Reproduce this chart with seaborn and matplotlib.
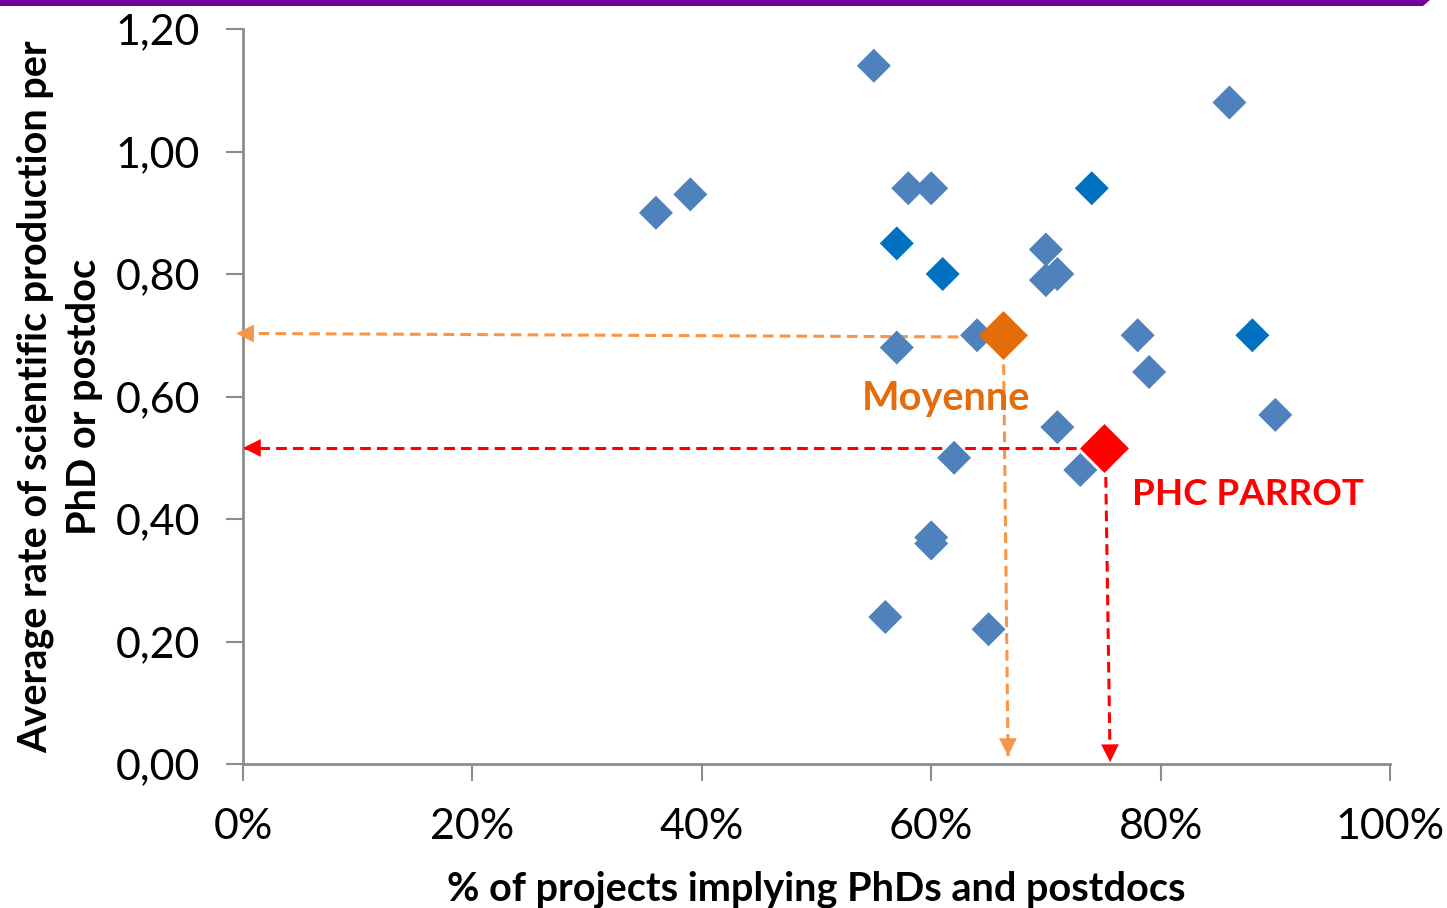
import matplotlib
matplotlib.use("Agg")
import matplotlib.pyplot as plt
import matplotlib.patches as mpatches
from matplotlib.ticker import FuncFormatter
import seaborn as sns
import pandas as pd

# Projects: share implying PhDs/postdocs vs. publication rate
x_share = [0.36, 0.39, 0.55, 0.58, 0.60, 0.57, 0.61, 0.74, 0.86, 0.70, 0.70, 0.71,
           0.64, 0.57, 0.78, 0.88, 0.79, 0.90, 0.71, 0.62, 0.73, 0.60, 0.60, 0.56, 0.65]
y_rate = [0.90, 0.93, 1.14, 0.94, 0.94, 0.85, 0.80, 0.94, 1.08, 0.84, 0.79, 0.80,
          0.70, 0.68, 0.70, 0.70, 0.64, 0.57, 0.55, 0.50, 0.48, 0.37, 0.36, 0.24, 0.22]
group = ["a", "a", "a", "a", "a", "b", "b", "b", "a", "a", "a", "a",
         "a", "a", "a", "b", "a", "a", "a", "a", "a", "a", "a", "a", "a"]

mean_point = (0.663, 0.70)
parrot_point = (0.751, 0.516)

x_ticks = [0.0, 0.2, 0.4, 0.6, 0.8, 1.0]
y_ticks = [0.0, 0.2, 0.4, 0.6, 0.8, 1.0, 1.2]

df = pd.DataFrame({"share": x_share, "rate": y_rate, "group": group})

sns.set_style("white")
plt.rcParams["font.family"] = ["Lato", "DejaVu Sans"]
plt.rcParams["text.color"] = "black"
plt.rcParams["axes.labelcolor"] = "black"

fig = plt.figure(figsize=(14.47, 9.08), dpi=100)
ax = fig.add_axes([243 / 1447, 1 - 764 / 908, (1390 - 243) / 1447, (764 - 29) / 908])

sns.scatterplot(data=df, x="share", y="rate", hue="group",
                palette={"a": "#4F81BD", "b": "#0070C0"}, marker="D",
                s=300, linewidth=0, legend=False, ax=ax, zorder=3)

orange = "#E46C0A"
orange_l = "#F79646"
red = "#FF0000"

# Highlighted points: overall mean and the PHC PARROT project
ax.scatter([mean_point[0]], [mean_point[1]], marker="D", s=620, color=orange,
           linewidth=0, zorder=4)
ax.scatter([parrot_point[0]], [parrot_point[1]], marker="D", s=620, color=red,
           linewidth=0, zorder=4)


def guide(x0, y0, x1, y1, color):
    ax.plot([x0, x1], [y0, y1], color=color, lw=2.2, ls=(0, (3.5, 2)),
            zorder=2, clip_on=False)
    dx = (x1 - x0) * 0.03 if x1 != x0 else 0
    dy = (y1 - y0) * 0.05 if y1 != y0 else 0
    ax.annotate("", xy=(x1, y1), xytext=(x1 - dx, y1 - dy),
                arrowprops=dict(arrowstyle="-|>", color=color, lw=0,
                                mutation_scale=32, shrinkA=0, shrinkB=0),
                annotation_clip=False, zorder=5)


guide(mean_point[0] - 0.01, mean_point[1] - 0.003, -0.006, 0.703, orange_l)
guide(mean_point[0], mean_point[1] - 0.02, 0.667, 0.013, orange_l)
guide(parrot_point[0] - 0.01, parrot_point[1], 0.0, 0.516, red)
guide(parrot_point[0] + 0.001, parrot_point[1] - 0.02, 0.756, 0.003, red)

ax.text(0.613, 0.596, "Moyenne", color=orange, fontsize=28.5, fontweight="bold",
        ha="center", va="center", zorder=6)
ax.text(0.775, 0.440, "PHC PARROT", color=red, fontsize=26.5, fontweight="bold",
        ha="left", va="center", zorder=6)

ax.set_xlim(0, 1.0)
ax.set_ylim(0, 1.2)
ax.set_xticks(x_ticks)
ax.set_yticks(y_ticks)
ax.xaxis.set_major_formatter(FuncFormatter(lambda v, p: f"{v * 100:.0f}%"))
ax.yaxis.set_major_formatter(FuncFormatter(lambda v, p: f"{v:.2f}".replace(".", ",")))
ax.tick_params(axis="both", which="major", direction="out", length=12, width=1.5,
               color="#8C8C8C", labelsize=31, labelcolor="black", bottom=True, left=True)
ax.tick_params(axis="x", pad=20)
ax.tick_params(axis="y", pad=19)

for side in ["top", "right"]:
    ax.spines[side].set_visible(False)
for side in ["left", "bottom"]:
    ax.spines[side].set_color("#8C8C8C")
    ax.spines[side].set_linewidth(2)

ax.set_xlabel("% of projects implying PhDs and postdocs", fontsize=28.5,
              fontweight="bold", color="black")
ax.set_ylabel("Average rate of scientific production per\nPhD or postdoc",
              fontsize=28.5, fontweight="bold", linespacing=1.4, color="black")
ax.xaxis.set_label_coords(0.5, -0.145)
ax.yaxis.set_label_coords(-0.122, 0.5)

# Purple header band
fig.patches.append(mpatches.Polygon(
    [(0, 1), (1430 / 1447, 1), (1423 / 1447, 1 - 6 / 908), (0, 1 - 6 / 908)],
    closed=True, transform=fig.transFigure, facecolor="#700099",
    edgecolor="none", zorder=10))

fig.savefig("out.png", dpi=100)
